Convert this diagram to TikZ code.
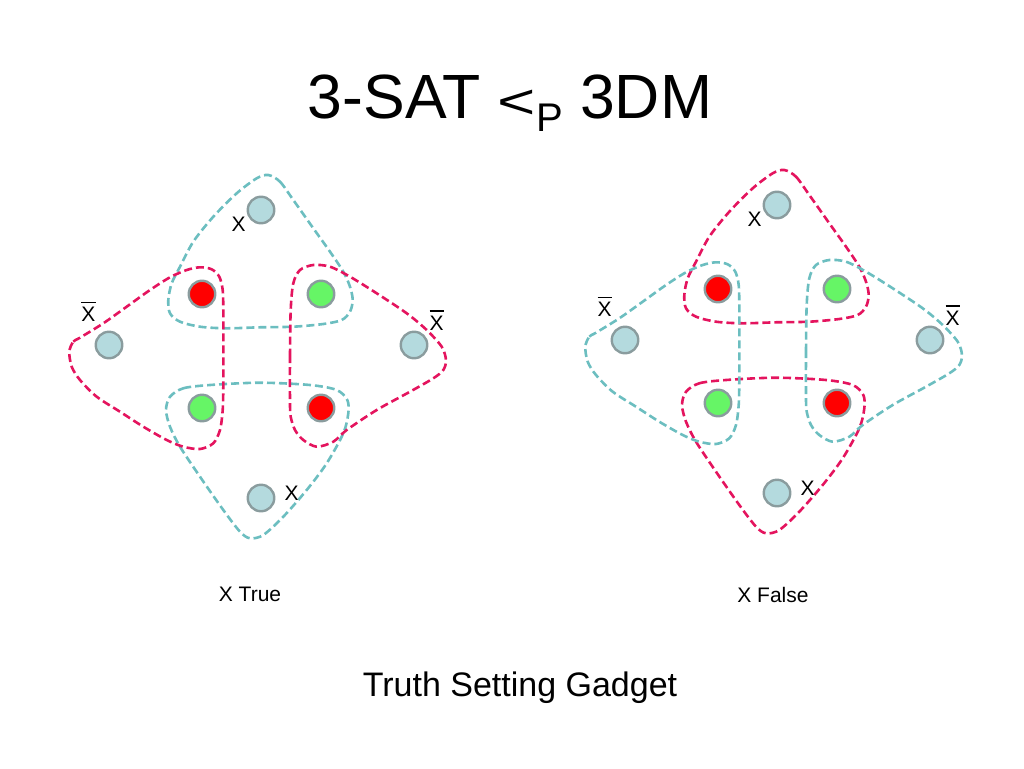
\documentclass[tikz,border=0pt]{standalone}
\usepackage{fontspec}
\setmainfont{Liberation Sans}
\definecolor{hcyan}{RGB}{108,190,192}
\definecolor{hred}{RGB}{228,20,94}
\definecolor{nblue}{RGB}{180,218,222}
\definecolor{nedge}{RGB}{138,156,158}
\definecolor{ngreen}{RGB}{102,245,102}
\definecolor{nred}{RGB}{255,0,0}
\newcommand\xbar{\leavevmode\rlap{\raisebox{0.87em}{\rule{0.667em}{0.07em}}}X}
\tikzset{
  vnode/.style={circle, draw=nedge, line width=2.4pt, minimum size=26.5pt, inner sep=0pt},
  vblue/.style={vnode, fill=nblue},
  vred/.style={vnode, fill=nred},
  vgreen/.style={vnode, fill=ngreen},
  lab/.style={font=\fontsize{21}{21}\selectfont, inner sep=0pt, anchor=base},
  hedge/.style={line width=2.6pt, dash pattern=on 8pt off 4pt, line join=round},
  caption/.style={font=\fontsize{21}{21}\selectfont, inner sep=0pt, anchor=base},
}
\newcommand\gadget[4]{%
\begin{scope}[shift={#2}]
  % top hyperedge
  \draw[hedge, #3] plot[smooth cycle, tension=0.5] coordinates {
    (268.3,175) (280,181.7) (293.3,200) (313.3,228.3) (330,251.7) (343.3,271.7)
    (350,286.7) (352.7,300) (350,311.7) (341.7,320) (323.3,324) (293.3,326.7)
    (260,327.3) (226.7,328.3) (200,326.7) (180,321.7) (170,313.3) (168.3,300)
    (171.7,283.3) (180,266.7) (193.3,241.7) (213.3,216.7) (236.7,193.3) (256.7,178.3)};
  % bottom hyperedge
  \draw[hedge, #3] plot[smooth cycle, tension=0.5] coordinates {
    (170,396.7) (183.3,388.3) (210,385) (260,382.7) (310,385) (336.7,390)
    (347.3,400) (348.3,413.3) (343.3,433.3) (326.7,463.3) (306.7,490) (283.3,516.7)
    (263.3,535) (250,538.3) (240,531.7) (223.3,510) (200,476.7) (180,446.7)
    (170,426.7) (166,410)};
  % left hyperedge
  \draw[hedge, #4] plot[smooth cycle, tension=0.5] coordinates {
    (69.3,351.7) (73.3,341.7) (80,337.7) (103.3,323.3) (126.7,306.7) (150,290)
    (170,277.3) (186.7,270) (200,267.3) (211.7,269.3) (219.3,276.7) (222.7,290)
    (223.3,310) (223.3,336.7) (223.3,363.3) (223.3,386.7) (222.7,410) (220,430)
    (213.3,443.3) (200,449) (183.3,446.7) (166.7,440) (143.3,426.7) (120,411.7)
    (96.7,396.7) (80,380) (71.7,366.7)};
  % right hyperedge
  \draw[hedge, #4] plot[smooth cycle, tension=0.5] coordinates {
    (290,403.3) (290,356.7) (290.7,310) (293.3,283.3) (300,270) (313.3,265)
    (330,266.7) (350,276.7) (376.7,293.3) (406.7,313.3) (426.7,330) (441.7,346.7)
    (446,360) (443.3,370) (433.3,378.3) (410,391.7) (376.7,410) (346.7,430)
    (333.3,441.7) (316.7,446.7) (303.3,440) (295,430) (290.7,416.7)};
  % elements
  \node[vblue]  (#1t)  at (261,210) {};
  \node[vred]   (#1tl) at (202,294) {};
  \node[vgreen] (#1tr) at (321,294) {};
  \node[vblue]  (#1l)  at (109,345) {};
  \node[vblue]  (#1r)  at (414,345) {};
  \node[vgreen] (#1bl) at (202,408) {};
  \node[vred]   (#1br) at (321,408) {};
  \node[vblue]  (#1b)  at (261,498) {};
  % labels
  \node[lab] (#1xt) at (238.5,231.7) {X};
  \node[lab] (#1xl) at (88.5,321.7) {\xbar};
  \node[lab] (#1xr) at (436.7,330) {\xbar};
  \node[lab] (#1xb) at (291.7,500) {X};
\end{scope}}
\begin{document}
\begin{tikzpicture}[x=1pt, y=-1pt]
  \useasboundingbox (0,0) rectangle (1024,768);
  \node[inner sep=0pt, anchor=base, font=\fontsize{62.5}{62.5}\selectfont] (title) at (510,118.3)
    {3-SAT \scalebox{1.05}[0.78]{<}\raisebox{-13.4pt}{\fontsize{40}{40}\selectfont P} 3DM};
  \gadget{A}{(0,0)}{hcyan}{hred}
  \gadget{B}{(516,-5)}{hred}{hcyan}
  \node[caption] (capA) at (250,601) {X True};
  \node[caption] (capB) at (773,602) {X False};
  \node[inner sep=0pt, anchor=base, font=\fontsize{34}{34}\selectfont] (sub) at (520,696.5) {Truth Setting Gadget};
\end{tikzpicture}
\end{document}
